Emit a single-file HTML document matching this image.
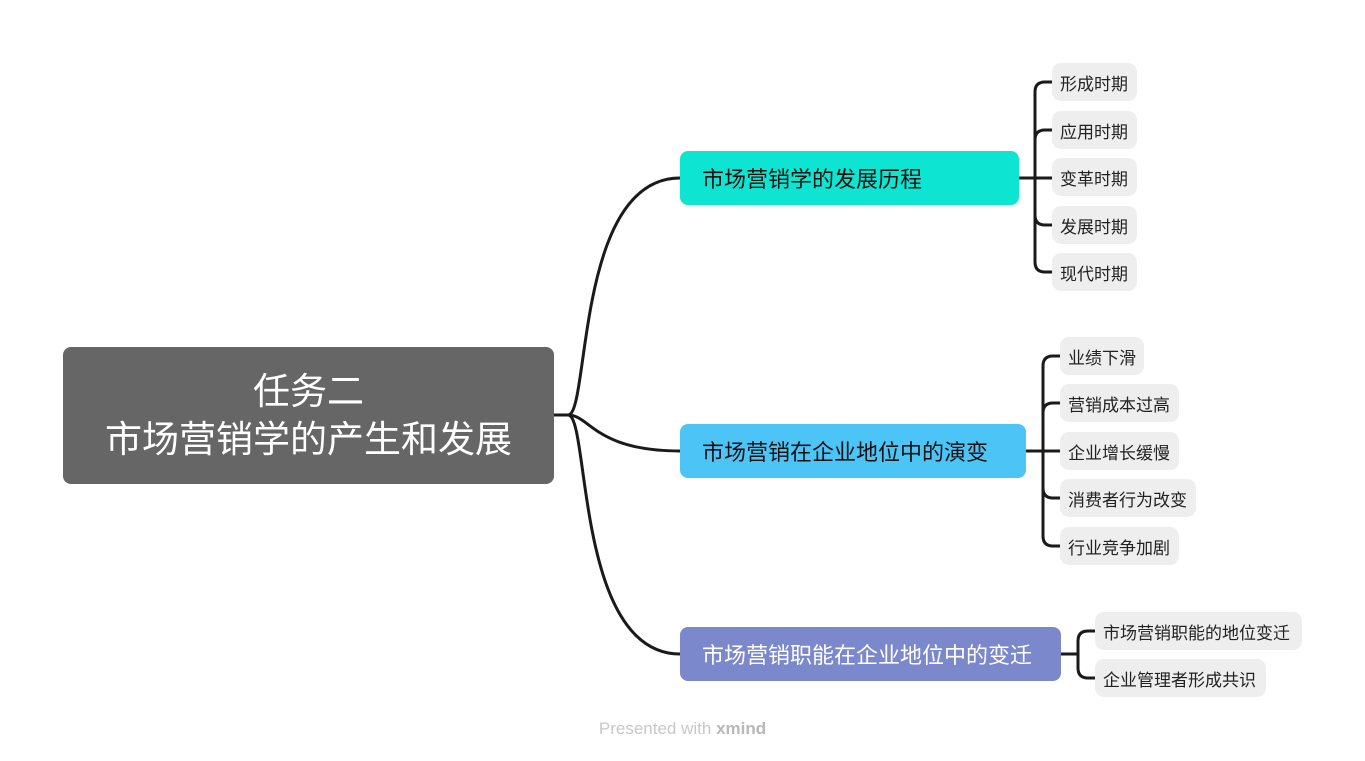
<!DOCTYPE html>
<html><head><meta charset="utf-8"><style>
body{margin:0;width:1365px;height:761px;background:#fff;position:relative;overflow:hidden;font-family:"Liberation Sans","Noto Sans CJK SC",sans-serif}
.n{position:absolute;box-sizing:border-box;display:flex;align-items:center;white-space:nowrap}
.leaf{background:#eeeeee;border-radius:9px;height:38px;font-size:17px;color:#222;padding-left:8px}
.br{height:54px;border-radius:8px;font-size:22px;color:#111;padding-left:22px}
</style></head><body>
<svg width="1365" height="761" style="position:absolute;left:0;top:0" fill="none" stroke="#1a1a1a" stroke-width="3">
<path d="M554 415 L568 415 C590 415 575 178 680 178"/>
<path d="M568 415 C590 415 595 451 680 451"/>
<path d="M568 415 C590 415 575 654 680 654"/>
<path d="M1019 178 H1052"/>
<path d="M1052 82 H1045 Q1035 82 1035 92 V262 Q1035 272 1045 272 H1052"/>
<path d="M1052 130 H1045 Q1035 130 1035 140"/>
<path d="M1052 225 H1045 Q1035 225 1035 215"/>
<path d="M1026 451 H1060"/>
<path d="M1060 356 H1053 Q1043 356 1043 366 V536 Q1043 546 1053 546 H1060"/>
<path d="M1060 403 H1053 Q1043 403 1043 413"/>
<path d="M1060 498 H1053 Q1043 498 1043 488"/>
<path d="M1061 654 H1078"/>
<path d="M1095 631 H1088 Q1078 631 1078 641 V668 Q1078 678 1088 678 H1095"/>
</svg>
<div class="n" style="left:63px;top:347px;width:491px;height:137px;background:#666;border-radius:8px;color:#fff;font-size:37px;justify-content:center;text-align:center;line-height:48px">任务二<br>市场营销学的产生和发展</div>
<div class="n br" style="left:680px;top:151px;width:339px;background:#0de5d2">市场营销学的发展历程</div>
<div class="n br" style="left:680px;top:424px;width:346px;background:#4cc4f6">市场营销在企业地位中的演变</div>
<div class="n br" style="left:680px;top:627px;width:381px;background:#7b88cc;color:#fff">市场营销职能在企业地位中的变迁</div>
<div class="n leaf" style="left:1052px;top:63px;width:85px">形成时期</div>
<div class="n leaf" style="left:1052px;top:111px;width:85px">应用时期</div>
<div class="n leaf" style="left:1052px;top:158px;width:85px">变革时期</div>
<div class="n leaf" style="left:1052px;top:206px;width:85px">发展时期</div>
<div class="n leaf" style="left:1052px;top:253px;width:85px">现代时期</div>
<div class="n leaf" style="left:1060px;top:337px;width:84px">业绩下滑</div>
<div class="n leaf" style="left:1060px;top:384px;width:119px">营销成本过高</div>
<div class="n leaf" style="left:1060px;top:432px;width:119px">企业增长缓慢</div>
<div class="n leaf" style="left:1060px;top:479px;width:136px">消费者行为改变</div>
<div class="n leaf" style="left:1060px;top:527px;width:119px">行业竞争加剧</div>
<div class="n leaf" style="left:1095px;top:612px;width:207px">市场营销职能的地位变迁</div>
<div class="n leaf" style="left:1095px;top:659px;width:171px">企业管理者形成共识</div>
<div style="position:absolute;left:0;width:1365px;top:719px;text-align:center;font-size:17px;color:#c8c8c8">Presented with <b style="color:#b8b8b8">xmind</b></div>
</body></html>
